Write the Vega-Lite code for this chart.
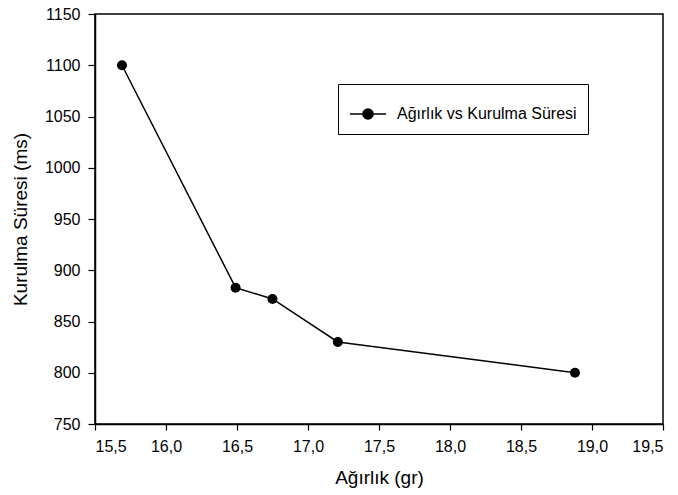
{
  "$schema": "https://vega.github.io/schema/vega-lite/v6.json",
  "autosize": "none",
  "width": 568,
  "height": 410,
  "padding": {"left": 95, "top": 14, "right": 15, "bottom": 71},
  "background": "white",
  "data": {
    "values": [
      {"agirlik": 15.69, "sure": 1100, "seri": "Ağırlık vs Kurulma Süresi"},
      {"agirlik": 16.49, "sure": 883, "seri": "Ağırlık vs Kurulma Süresi"},
      {"agirlik": 16.75, "sure": 872, "seri": "Ağırlık vs Kurulma Süresi"},
      {"agirlik": 17.21, "sure": 830, "seri": "Ağırlık vs Kurulma Süresi"},
      {"agirlik": 18.88, "sure": 800, "seri": "Ağırlık vs Kurulma Süresi"}
    ]
  },
  "encoding": {
    "x": {
      "field": "agirlik",
      "type": "quantitative",
      "scale": {"domain": [15.5, 19.5], "nice": false, "zero": false},
      "axis": {
        "title": "Ağırlık (gr)",
        "values": [15.5, 16, 16.5, 17, 17.5, 18, 18.5, 19, 19.5],
        "labelExpr": "replace(format(datum.value, '.1f'), '.', ',')",
        "grid": false,
        "tickSize": 6,
        "labelPadding": 8,
        "titlePadding": 14
      }
    },
    "y": {
      "field": "sure",
      "type": "quantitative",
      "scale": {"domain": [750, 1150], "nice": false, "zero": false},
      "axis": {
        "title": "Kurulma Süresi (ms)",
        "values": [750, 800, 850, 900, 950, 1000, 1050, 1100, 1150],
        "format": "d",
        "grid": false,
        "tickSize": 7,
        "labelPadding": 8,
        "titlePadding": 14
      }
    }
  },
  "layer": [
    {
      "mark": {"type": "line", "strokeWidth": 1.5},
      "encoding": {
        "stroke": {
          "field": "seri",
          "type": "nominal",
          "scale": {"range": ["black"]},
          "legend": {
            "title": null,
            "orient": "none",
            "legendX": 243,
            "legendY": 70,
            "padding": 11,
            "strokeColor": "black",
            "fillColor": "white",
            "labelOffset": 10,
            "labelFontSize": 16,
            "labelLimit": 0,
            "labelFont": "Liberation Sans",
            "labelColor": "black",
            "symbolSize": 1296,
            "symbolStrokeWidth": 1.5,
            "symbolStrokeColor": "black",
            "symbolFillColor": "black",
            "symbolType": "M-1,0L1,0M-0.28,0A0.28,0.28,0,1,1,0.28,0A0.28,0.28,0,1,1,-0.28,0Z"
          }
        }
      }
    },
    {
      "mark": {"type": "point", "shape": "circle", "filled": true, "size": 100, "opacity": 1},
      "encoding": {
        "fill": {
          "field": "seri",
          "type": "nominal",
          "scale": {"range": ["black"]},
          "legend": null
        }
      }
    }
  ],
  "config": {
    "view": {"stroke": "black", "strokeWidth": 1.5},
    "font": "Liberation Sans",
    "axis": {
      "domainColor": "black",
      "domainWidth": 1.5,
      "tickColor": "black",
      "tickWidth": 1.2,
      "labelFont": "Liberation Sans",
      "labelFontSize": 16,
      "labelColor": "black",
      "titleFont": "Liberation Sans",
      "titleFontSize": 19,
      "titleFontWeight": "normal",
      "titleColor": "black"
    }
  }
}
